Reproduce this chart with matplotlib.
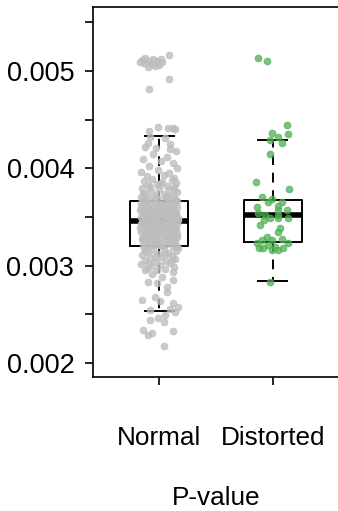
import matplotlib
matplotlib.use("Agg")
import matplotlib.pyplot as plt

plt.rcParams['font.family'] = ['Liberation Sans', 'DejaVu Sans']

categories = ["Normal", "Distorted"]
x_title = "P-value"

# Box statistics (q1, median, q3, whisker low, whisker high)
box_q1 = [0.003203, 0.003244]
box_med = [0.003460, 0.003522]
box_q3 = [0.003665, 0.003676]
box_wlo = [0.002536, 0.002844]
box_whi = [0.004333, 0.004292]

# Jittered points: values and horizontal jitter offsets
normal_vals = [
    0.00516, 0.00513, 0.00512, 0.00511, 0.00510, 0.00510, 0.00509, 0.00508, 0.00507, 0.00506,
    0.00505, 0.00504, 0.00512, 0.00509, 0.00492, 0.00481,
    0.00442, 0.00441, 0.00441, 0.00440, 0.00438, 0.00432, 0.00431, 0.00426, 0.00425, 0.00422,
    0.00421, 0.00420,
    0.00418, 0.00415, 0.00412, 0.00410, 0.00407, 0.00405, 0.00402, 0.00400, 0.00398, 0.00396,
    0.00395, 0.00393, 0.00392, 0.00390,
    0.00389, 0.00388, 0.00387, 0.00386, 0.00385, 0.00384, 0.00383, 0.00382, 0.00381, 0.00380,
    0.00379, 0.00378, 0.00377, 0.00376, 0.00375, 0.00374, 0.00373, 0.00372, 0.00371, 0.00370,
    0.00369, 0.00368, 0.00368, 0.00367, 0.00367,
    0.00366, 0.00366, 0.00365, 0.00365, 0.00364, 0.00364, 0.00363, 0.00363, 0.00362, 0.00362,
    0.00361, 0.00361, 0.00360, 0.00360, 0.00359, 0.00359, 0.00358, 0.00358, 0.00357, 0.00357,
    0.00356, 0.00356, 0.00355, 0.00355, 0.00354, 0.00354, 0.00353, 0.00353, 0.00352, 0.00352,
    0.00351, 0.00351, 0.00350, 0.00350, 0.00349, 0.00349, 0.00348, 0.00348, 0.00347, 0.00347,
    0.00346, 0.00346, 0.00346, 0.00345, 0.00345, 0.00344, 0.00344, 0.00343, 0.00343, 0.00342,
    0.00342, 0.00341, 0.00341, 0.00340, 0.00340, 0.00339, 0.00339, 0.00338, 0.00338, 0.00337,
    0.00337, 0.00336, 0.00336, 0.00335, 0.00335, 0.00334, 0.00334, 0.00333, 0.00333, 0.00332,
    0.00332, 0.00331, 0.00331, 0.00330, 0.00330, 0.00329, 0.00329, 0.00328, 0.00328, 0.00327,
    0.00327, 0.00326, 0.00326, 0.00325, 0.00325, 0.00324, 0.00324, 0.00323, 0.00323, 0.00322,
    0.00322, 0.00321, 0.00321, 0.00320, 0.00320,
    0.00319, 0.00318, 0.00317, 0.00316, 0.00315, 0.00314, 0.00313, 0.00312, 0.00311, 0.00310,
    0.00309, 0.00308, 0.00307, 0.00306, 0.00305, 0.00304, 0.00303, 0.00302, 0.00301, 0.00300,
    0.00299, 0.00298, 0.00297, 0.00296,
    0.00296, 0.00293, 0.00291, 0.00288, 0.00285, 0.00283, 0.00282, 0.00278, 0.00273, 0.00268,
    0.00265, 0.00264, 0.00262, 0.00258, 0.00255, 0.00254, 0.00252, 0.00249, 0.00246, 0.00244,
    0.00242, 0.00234, 0.00233, 0.00231, 0.00229, 0.00217,
    0.00384, 0.00381, 0.00378, 0.00375, 0.00372, 0.00369, 0.00366, 0.00364, 0.00362, 0.00360,
    0.00358, 0.00356, 0.00354, 0.00352, 0.00350, 0.00348, 0.00347, 0.00345, 0.00344, 0.00342,
    0.00341, 0.00339, 0.00338, 0.00336, 0.00335, 0.00333, 0.00331, 0.00329, 0.00327, 0.00325,
    0.00323, 0.00321, 0.00318, 0.00315, 0.00312, 0.00309, 0.00306, 0.00303, 0.00357, 0.00349,
    0.00343, 0.00337, 0.00353, 0.00346, 0.00340, 0.00334, 0.00361, 0.00328, 0.00355, 0.00344,
]
normal_jit = [
    0.09, -0.12, -0.05, -0.15, -0.02, -0.09, 0.03, -0.13, -0.07, 0.00,
    -0.04, -0.10, 0.02, -0.17, 0.09, -0.09,
    -0.01, 0.08, 0.12, 0.14, -0.09, -0.08, 0.05, -0.10, 0.10, -0.12,
    -0.03, 0.10,
    0.15, -0.05, 0.07, -0.14, 0.02, 0.12, -0.09, 0.16, -0.01, -0.16,
    0.09, 0.04, -0.11, 0.13,
    -0.06, 0.11, -0.13, 0.03, 0.15, -0.02, -0.10, 0.07, 0.13, -0.15,
    0.00, 0.09, -0.07, 0.16, -0.12, 0.04, -0.03, 0.12, -0.16, 0.06,
    -0.09, 0.14, -0.01, 0.10, -0.13,
    0.05, -0.11, -0.04, 0.14, 0.09, -0.16, -0.08, 0.02, 0.12, -0.01,
    -0.13, 0.07, 0.16, -0.06, 0.00, -0.10, 0.11, -0.15, 0.04, -0.03,
    -0.12, 0.13, 0.08, -0.07, -0.02, 0.15, 0.03, -0.14, -0.09, 0.10,
    0.06, -0.05, -0.16, 0.01, 0.12, -0.11, -0.04, 0.09, 0.14, -0.08,
    -0.01, 0.05, -0.13, 0.11, -0.06, 0.02, -0.15, -0.10, 0.16, 0.07,
    -0.03, -0.12, 0.04, 0.13, -0.07, -0.02, 0.10, 0.06, -0.14, -0.09,
    0.15, 0.01, -0.05, 0.12, -0.16, -0.08, 0.08, 0.03, -0.11, -0.01,
    0.14, 0.09, -0.06, -0.13, 0.05, 0.16, -0.03, -0.10, 0.02, 0.11,
    -0.15, -0.04, 0.07, 0.13, -0.08, 0.00, -0.12, 0.10, -0.02, -0.14,
    0.06, 0.15, -0.06, 0.03, -0.09,
    0.12, -0.13, 0.04, -0.05, 0.15, -0.10, 0.08, -0.01, -0.15, 0.11,
    0.02, -0.08, 0.14, -0.12, 0.06, -0.03, 0.10, -0.16, 0.01, -0.07,
    0.13, -0.11, 0.05, -0.02,
    -0.12, 0.12, -0.06, 0.03, 0.12, -0.10, -0.02, 0.07, 0.07, -0.04,
    -0.15, 0.01, 0.12, 0.17, 0.10, -0.08, 0.14, 0.05, -0.01, -0.08,
    0.04, -0.14, 0.12, -0.06, -0.10, 0.04,
    0.01, -0.08, 0.13, -0.14, 0.07, -0.04, 0.16, -0.11, 0.04, -0.16,
    0.10, -0.06, 0.15, -0.01, -0.12, 0.06, 0.17, -0.15, 0.09, -0.05,
    0.13, -0.17, 0.02, 0.11, -0.09, 0.16, -0.03, 0.08, -0.14, 0.14,
    -0.07, 0.00, 0.17, -0.12, 0.05, -0.04, 0.11, -0.09, -0.17, 0.17,
    -0.16, 0.15, 0.05, -0.05, -0.08, 0.08, 0.12, -0.13, 0.02, 0.00,
]

distorted_vals = [
    0.00513, 0.00510,
    0.00444, 0.00435, 0.00436, 0.00432, 0.00429, 0.00426,
    0.00415, 0.00386, 0.00379, 0.00371, 0.00368, 0.00365, 0.00365, 0.00361, 0.00360, 0.00357,
    0.00357, 0.00354, 0.00352, 0.00352, 0.00349, 0.00349, 0.00349, 0.00347, 0.00342, 0.00339,
    0.00335, 0.00329, 0.00326, 0.00326, 0.00327, 0.00323, 0.00321, 0.00319, 0.00323, 0.00318,
    0.00318, 0.00318, 0.00316, 0.00316, 0.00283,
]
distorted_jit = [
    -0.13, -0.05,
    0.12, 0.13, -0.01, 0.04, -0.03, 0.08,
    -0.03, -0.15, 0.14, -0.10, -0.01, -0.04, 0.08, 0.04, -0.14, 0.04,
    0.12, -0.13, -0.07, 0.04, -0.03, 0.04, 0.13, -0.08, -0.11, 0.06,
    0.04, -0.05, -0.10, -0.01, 0.08, -0.14, -0.04, 0.02, 0.13, -0.09,
    0.09, -0.12, -0.01, 0.04, -0.03,
]

fig = plt.figure(figsize=(3.38, 5.11), dpi=100)
ax = fig.add_axes([93 / 338, (511 - 377) / 511, 246 / 338, 370 / 511])

stats = []
for i, name in enumerate(categories):
    stats.append(dict(label=name, med=box_med[i], q1=box_q1[i], q3=box_q3[i],
                      whislo=box_wlo[i], whishi=box_whi[i], fliers=[]))

ax.bxp(stats, positions=[1, 2], widths=0.51, showfliers=False,
       boxprops=dict(color='black', linewidth=1.4),
       medianprops=dict(color='black', linewidth=4.0, solid_capstyle='butt'),
       whiskerprops=dict(color='black', linewidth=1.4, linestyle=(0, (5, 4))),
       capprops=dict(color='black', linewidth=1.4),
       zorder=2)

ax.plot([1 + j for j in normal_jit], normal_vals, 'o', ms=4.9,
        color='#BDBDBD', mec='#BDBDBD', mew=0.6, alpha=0.8, zorder=3)
ax.plot([2 + j for j in distorted_jit], distorted_vals, 'o', ms=4.9,
        color='#4CAF50', mec='#4CAF50', mew=0.6, alpha=0.75, zorder=3)

ax.set_xlim(0.42, 2.58)
ax.set_ylim(0.001856, 0.005657)

yt = [0.002, 0.0025, 0.003, 0.0035, 0.004, 0.0045, 0.005, 0.0055]
ylabels = ['0.002', '', '0.003', '', '0.004', '', '0.005', '']
ax.set_yticks(yt)
ax.set_yticklabels(ylabels)
ax.set_xticks([1, 2])
ax.set_xticklabels(categories)
ax.tick_params(axis='y', length=6, width=1.2, pad=7.5, labelsize=19.5)
ax.tick_params(axis='x', length=6, width=1.2, pad=29, labelsize=18.8)
ax.set_xlabel(x_title, fontsize=18.8, labelpad=26.5)

for s in ['left', 'top', 'bottom']:
    ax.spines[s].set_linewidth(1.2)
ax.spines['right'].set_visible(False)

fig.savefig('out.png', dpi=100)
